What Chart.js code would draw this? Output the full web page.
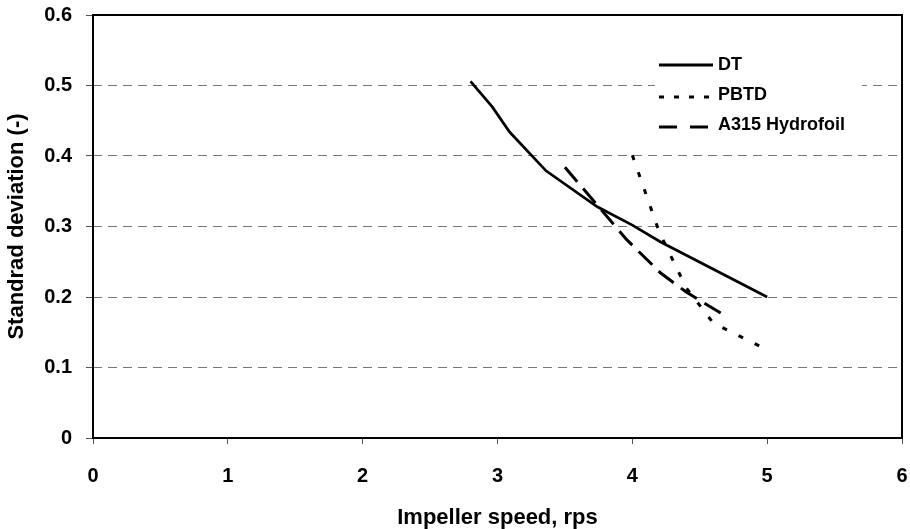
<!DOCTYPE html>
<html>
<head>
<meta charset="utf-8">
<script src="https://cdn.jsdelivr.net/npm/chart.js@4.4.1/dist/chart.umd.min.js"></script>
<style>
  html, body { margin: 0; padding: 0; background: #fff; }
  #wrap { width: 910px; height: 529px; position: relative; }
</style>
</head>
<body>
<div id="wrap"><canvas id="c" width="910" height="529"></canvas></div>
<script>
/* Standard deviation vs impeller speed for three impellers */
const dtX   = [2.80, 2.96, 3.09, 3.36, 3.74, 4.00, 4.21, 5.00];
const dtY   = [0.506, 0.470, 0.434, 0.379, 0.328, 0.302, 0.278, 0.200];
const pbtdX = [4.00, 4.20, 4.40, 4.60, 5.00];
const pbtdY = [0.401, 0.292, 0.213, 0.163, 0.125];
const a315X = [3.50, 3.96, 4.21, 4.40, 4.70];
const a315Y = [0.384, 0.281, 0.234, 0.207, 0.172];
const seriesNames = ["DT", "PBTD", "A315 Hydrofoil"];
const xTicks = [0, 1, 2, 3, 4, 5, 6];
const yTicks = [0, 0.1, 0.2, 0.3, 0.4, 0.5, 0.6];

const FONT = "'Liberation Sans', Arial, Helvetica, sans-serif";
const pts = (xs, ys) => xs.map((x, i) => ({ x, y: ys[i] }));
const DASH = { DT: [], PBTD: [5, 13], "A315 Hydrofoil": [19, 9] };

// frame round the plot area, like the Excel plot border
const frame = {
  id: "frame",
  afterDatasetsDraw(chart) {
    const { ctx, chartArea: a } = chart;
    ctx.save();
    ctx.strokeStyle = "#000"; ctx.lineWidth = 2;
    ctx.strokeRect(a.left, a.top, a.right - a.left, a.bottom - a.top);
    ctx.restore();
  },
};

// legend sits inside the plot, white box hides the 0.5 gridline
const legendBox = {
  id: "legendBox",
  afterDatasetsDraw(chart) {
    const ctx = chart.ctx;
    ctx.save();
    ctx.fillStyle = "#fff";
    ctx.fillRect(655, 46, 207, 96);
    const rows = [
      { name: seriesNames[0], y: 65, ly: 65, dash: [] },
      { name: seriesNames[1], y: 95, ly: 97, dash: [5, 10] },
      { name: seriesNames[2], y: 125, ly: 127, dash: [18, 13] },
    ];
    rows.forEach(r => {
      ctx.beginPath();
      ctx.setLineDash(r.dash);
      ctx.strokeStyle = "#000"; ctx.lineWidth = 3;
      ctx.moveTo(659, r.ly); ctx.lineTo(713, r.ly); ctx.stroke();
      ctx.setLineDash([]);
      ctx.fillStyle = "#000";
      ctx.font = "bold 18px " + FONT;
      ctx.textBaseline = "middle"; ctx.textAlign = "left";
      ctx.fillText(r.name, 718, r.y);
    });
    ctx.restore();
  },
};

new Chart(document.getElementById("c"), {
  type: "scatter",
  data: {
    datasets: [
      { label: seriesNames[0], data: pts(dtX, dtY) },
      { label: seriesNames[1], data: pts(pbtdX, pbtdY) },
      { label: seriesNames[2], data: pts(a315X, a315Y) },
    ].map(d => Object.assign(d, {
      showLine: true, borderColor: "#000", borderWidth: d.label === "DT" ? 2.7 : 3,
      borderDash: DASH[d.label], pointRadius: 0, tension: 0, fill: false,
    })),
  },
  options: {
    responsive: false, animation: false,
    layout: { padding: { top: 15, right: 8, left: 0, bottom: 0 } },
    plugins: { legend: { display: false }, tooltip: { enabled: false } },
    scales: {
      x: {
        type: "linear", min: 0, max: 6,
        afterBuildTicks: s => { s.ticks = xTicks.map(v => ({ value: v })); },
        afterFit: s => { s.height = 91; s.paddingLeft = 0; s.paddingRight = 0; },
        border: { display: false },
        grid: { drawOnChartArea: false, tickLength: 6, color: "#555", tickColor: "#555" },
        ticks: { padding: 20, color: "#000", font: { family: FONT, size: 20, weight: "bold" } },
        title: { display: true, text: "Impeller speed, rps", color: "#000",
          font: { family: FONT, size: 22, weight: "bold", lineHeight: 1 }, padding: { top: 0, bottom: 0 } },
      },
      y: {
        type: "linear", min: 0, max: 0.6,
        afterBuildTicks: s => { s.ticks = yTicks.map(v => ({ value: v })); },
        afterFit: s => { s.width = 93; s.paddingTop = 0; s.paddingBottom = 0; },
        border: { display: false, dash: [9, 6] },
        grid: {
          tickLength: 7, lineWidth: 1,
          color: c => (c.tick && (c.tick.value === 0 || c.tick.value === 0.6)) ? "rgba(0,0,0,0)" : "#777",
          tickColor: "#555", tickBorderDash: [],
        },
        ticks: { padding: 14, color: "#000", font: { family: FONT, size: 20, weight: "bold" },
          callback: v => v === 0 ? "0" : v.toFixed(1) },
        title: { display: true, text: "Standrad deviation (-)", color: "#000",
          font: { family: FONT, size: 22, weight: "bold", lineHeight: 1 }, padding: { top: 6, bottom: 0 } },
      },
    },
  },
  plugins: [frame, legendBox],
});
</script>
</body>
</html>
